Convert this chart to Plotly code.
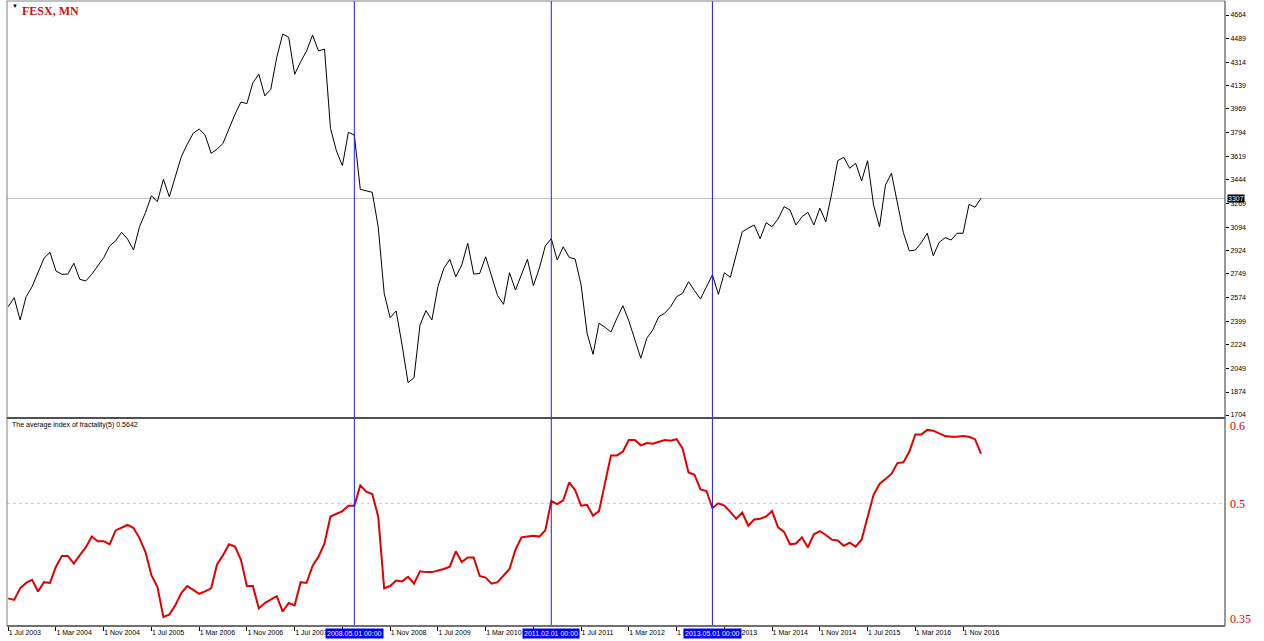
import pandas as pd
import plotly.graph_objects as go

# ---------------- data ----------------
price = [2505, 2572, 2407, 2579, 2653, 2753, 2864, 2908, 2770, 2745,
         2747, 2827, 2708, 2696, 2745, 2807, 2868, 2955, 2992, 3056,
         3006, 2925, 3097, 3201, 3327, 3282, 3448, 3319, 3473, 3615,
         3707, 3789, 3820, 3776, 3641, 3670, 3715, 3826, 3929, 4020,
         4008, 4163, 4225, 4065, 4114, 4351, 4523, 4499, 4225, 4318,
         4398, 4516, 4398, 4412, 3826, 3658, 3549, 3796, 3776, 3374,
         3362, 3352, 3097, 2605, 2424, 2474, 2222, 1943, 1980, 2370,
         2476, 2407, 2653, 2790, 2856, 2727, 2814, 2975, 2747, 2751,
         2875, 2722, 2588, 2523, 2757, 2629, 2740, 2856, 2661, 2790,
         2955, 3009, 2851, 2949, 2871, 2858, 2666, 2309, 2153, 2383,
         2353, 2318, 2420, 2513, 2400, 2259, 2124, 2272, 2333, 2431,
         2457, 2505, 2579, 2605, 2690, 2624, 2562, 2653, 2740, 2597,
         2757, 2723, 2888, 3060, 3086, 3110, 3009, 3127, 3097, 3154,
         3245, 3221, 3110, 3171, 3204, 3110, 3234, 3134, 3345, 3586,
         3611, 3530, 3567, 3436, 3586, 3258, 3097, 3406, 3493, 3271,
         3053, 2918, 2925, 2979, 3049, 2883, 2982, 3016, 2999, 3049,
         3049, 3263, 3241, 3307]

fractality = [0.377, 0.375, 0.390, 0.397, 0.401, 0.386, 0.398, 0.397, 0.418, 0.432,
              0.432, 0.422, 0.433, 0.443, 0.457, 0.451, 0.451, 0.447, 0.465, 0.468,
              0.472, 0.468, 0.455, 0.437, 0.407, 0.392, 0.353, 0.356, 0.368, 0.384,
              0.393, 0.388, 0.383, 0.386, 0.390, 0.421, 0.433, 0.447, 0.444, 0.427,
              0.393, 0.393, 0.364, 0.371, 0.375, 0.380, 0.360, 0.371, 0.368, 0.398,
              0.397, 0.419, 0.431, 0.448, 0.483, 0.487, 0.490, 0.497, 0.497, 0.523,
              0.515, 0.512, 0.483, 0.390, 0.393, 0.400, 0.399, 0.405, 0.396, 0.412,
              0.411, 0.411, 0.413, 0.415, 0.418, 0.438, 0.424, 0.430, 0.430, 0.406,
              0.404, 0.396, 0.398, 0.407, 0.415, 0.440, 0.456, 0.457, 0.458, 0.457,
              0.465, 0.503, 0.499, 0.504, 0.527, 0.517, 0.497, 0.498, 0.484, 0.490,
              0.528, 0.562, 0.562, 0.567, 0.582, 0.582, 0.575, 0.578, 0.577, 0.579,
              0.582, 0.581, 0.583, 0.571, 0.540, 0.537, 0.518, 0.516, 0.494, 0.500,
              0.497, 0.489, 0.480, 0.488, 0.471, 0.479, 0.480, 0.483, 0.490, 0.469,
              0.463, 0.447, 0.448, 0.456, 0.443, 0.460, 0.464, 0.459, 0.453, 0.452,
              0.445, 0.449, 0.444, 0.453, 0.483, 0.511, 0.525, 0.532, 0.538, 0.552,
              0.553, 0.567, 0.589, 0.589, 0.595, 0.594, 0.591, 0.587, 0.586, 0.586,
              0.587, 0.586, 0.583, 0.5642]

months = pd.date_range("2003-07-01", periods=len(price), freq="MS").strftime("%Y-%m").tolist()

tick_months = ["2003-07", "2004-03", "2004-11", "2005-07", "2006-03", "2006-11", "2007-07",
               "2008-03", "2008-11", "2009-07", "2010-03", "2010-11", "2011-07", "2012-03",
               "2012-11", "2013-07", "2014-03", "2014-11", "2015-07", "2016-03", "2016-11"]
tick_labels = ["1 Jul 2003", "1 Mar 2004", "1 Nov 2004", "1 Jul 2005", "1 Mar 2006", "1 Nov 2006",
               "1 Jul 2007", "1 Mar 2008", "1 Nov 2008", "1 Jul 2009", "1 Mar 2010", "1 Nov 2010",
               "1 Jul 2011", "1 Mar 2012", "1 Nov 2012", "1 Jul 2013", "1 Mar 2014", "1 Nov 2014",
               "1 Jul 2015", "1 Mar 2016", "1 Nov 2016"]
# labels completely hidden under the highlighted date boxes in the reference
hidden_labels = ["1 Mar 2008", "1 Nov 2010"]

price_ticks = [4664, 4489, 4314, 4139, 3969, 3794, 3619, 3444, 3269, 3094,
               2924, 2749, 2574, 2399, 2224, 2049, 1874, 1704]
fract_ticks = [0.6, 0.5, 0.35]
fract_tick_labels = ["0.6", "0.5", "0.35"]

marker_months = ["2008-05", "2011-02", "2013-05"]
marker_labels = ["2008.05.01 00:00", "2011.02.01 00:00", "2013.05.01 00:00"]

last_price = 3307
level_line = 0.5
title_text = "FESX, MN"
indicator_text = "The average index of fractality(5) 0.5642"

# ---------------- figure ----------------
W, H = 1264, 641
ML, MR, MT, MB = 7, 39, 1, 15
top_dom = [0.3344, 1.0]
bot_dom = [0.0, 0.3296]
sep_y = 0.3328

font_sans = "Liberation Sans, Arial, sans-serif"
font_serif = "Liberation Serif, Times New Roman, serif"

fig = go.Figure()
fig.add_trace(go.Scatter(x=months, y=price, mode="lines",
                         line=dict(color="black", width=1), xaxis="x", yaxis="y",
                         hoverinfo="skip", showlegend=False))
fig.add_trace(go.Scatter(x=months, y=fractality, mode="lines",
                         line=dict(color="#e00000", width=2), xaxis="x", yaxis="y2",
                         hoverinfo="skip", showlegend=False))

shapes = []
shapes.append(dict(type="line", xref="paper", yref="y", x0=0, x1=1, y0=last_price, y1=last_price,
                   line=dict(color="#c0c0c0", width=1), layer="below"))
shapes.append(dict(type="line", xref="paper", yref="y2", x0=0, x1=1, y0=level_line, y1=level_line,
                   line=dict(color="#c8c8c8", width=1, dash="dot"), layer="below"))
for m in marker_months:
    shapes.append(dict(type="line", xref="x", yref="paper", x0=m, x1=m, y0=0, y1=1,
                       line=dict(color="#1a1aff", width=1), layer="above"))
shapes.append(dict(type="line", xref="paper", yref="paper", x0=0, x1=0, y0=0, y1=1,
                   line=dict(color="#808080", width=1)))
shapes.append(dict(type="line", xref="paper", yref="paper", x0=0, x1=1, y0=1, y1=1,
                   line=dict(color="#808080", width=1)))
shapes.append(dict(type="line", xref="paper", yref="paper", x0=1, x1=1, y0=0, y1=1,
                   line=dict(color="#303030", width=1)))
shapes.append(dict(type="line", xref="paper", yref="paper", x0=0, x1=1, y0=sep_y, y1=sep_y,
                   line=dict(color="#505050", width=2)))
shapes.append(dict(type="line", xref="paper", yref="paper", x0=0, x1=1, y0=0, y1=0,
                   line=dict(color="#707070", width=2)))

annotations = []
annotations.append(dict(text="▼", xref="paper", yref="paper", x=(10 - ML) / (W - ML - MR),
                        y=(626 - 6) / 625, xanchor="left", yanchor="middle", showarrow=False,
                        font=dict(size=6, color="black", family=font_sans)))
annotations.append(dict(text="<b>" + title_text + "</b>", xref="paper", yref="paper",
                        x=(20 - ML) / (W - ML - MR), y=(626 - 11) / 625,
                        xanchor="left", yanchor="middle", showarrow=False,
                        font=dict(size=12, color="#d01010", family=font_serif)))
annotations.append(dict(text=indicator_text, xref="paper", yref="paper",
                        x=(10 - ML) / (W - ML - MR), y=(626 - 425) / 625,
                        xanchor="left", yanchor="middle", showarrow=False,
                        font=dict(size=7, color="black", family=font_sans)))
annotations.append(dict(text=str(last_price), xref="paper", yref="y", x=1.0, xshift=2,
                        y=last_price, xanchor="left", yanchor="middle", showarrow=False,
                        bgcolor="black", borderpad=0,
                        font=dict(size=7, color="white", family=font_sans)))
for m, lab in zip(marker_months, marker_labels):
    annotations.append(dict(text=lab, xref="x", yref="paper", x=m, y=0, yshift=-7,
                            xanchor="center", yanchor="middle", showarrow=False,
                            bgcolor="#0000ff", borderpad=1,
                            font=dict(size=7, color="white", family=font_sans)))

shown_text = ["" if t in hidden_labels else t for t in tick_labels]

fig.update_layout(
    width=W, height=H,
    margin=dict(l=ML, r=MR, t=MT, b=MB, pad=0),
    paper_bgcolor="white", plot_bgcolor="white",
    showlegend=False,
    xaxis=dict(type="category", categoryorder="array", categoryarray=months,
               range=[-0.201, 203.89], anchor="y2", showgrid=False, zeroline=False,
               showline=False, tickmode="array", tickvals=tick_months, ticktext=shown_text,
               ticks="outside", ticklen=4, tickcolor="black", tickwidth=1,
               ticklabelposition="outside right",
               tickfont=dict(size=7, color="black", family=font_sans)),
    yaxis=dict(domain=top_dom, range=[1689.2, 4767.6], side="right", anchor="x",
               showgrid=False, zeroline=False, showline=False,
               tickmode="array", tickvals=price_ticks, ticktext=[str(v) for v in price_ticks],
               ticks="outside", ticklen=3, tickcolor="black",
               tickfont=dict(size=7, color="black", family=font_sans)),
    yaxis2=dict(domain=bot_dom, range=[0.3413, 0.6078], side="right", anchor="x",
                showgrid=False, zeroline=False, showline=False,
                tickmode="array", tickvals=fract_ticks, ticktext=fract_tick_labels,
                ticks="", ticklabelstandoff=4,
                tickfont=dict(size=12, color="#e00000", family=font_serif)),
    shapes=shapes,
    annotations=annotations,
)

fig.write_html("out.html", config={"displayModeBar": False},
               post_script="document.body.style.margin='0';")
